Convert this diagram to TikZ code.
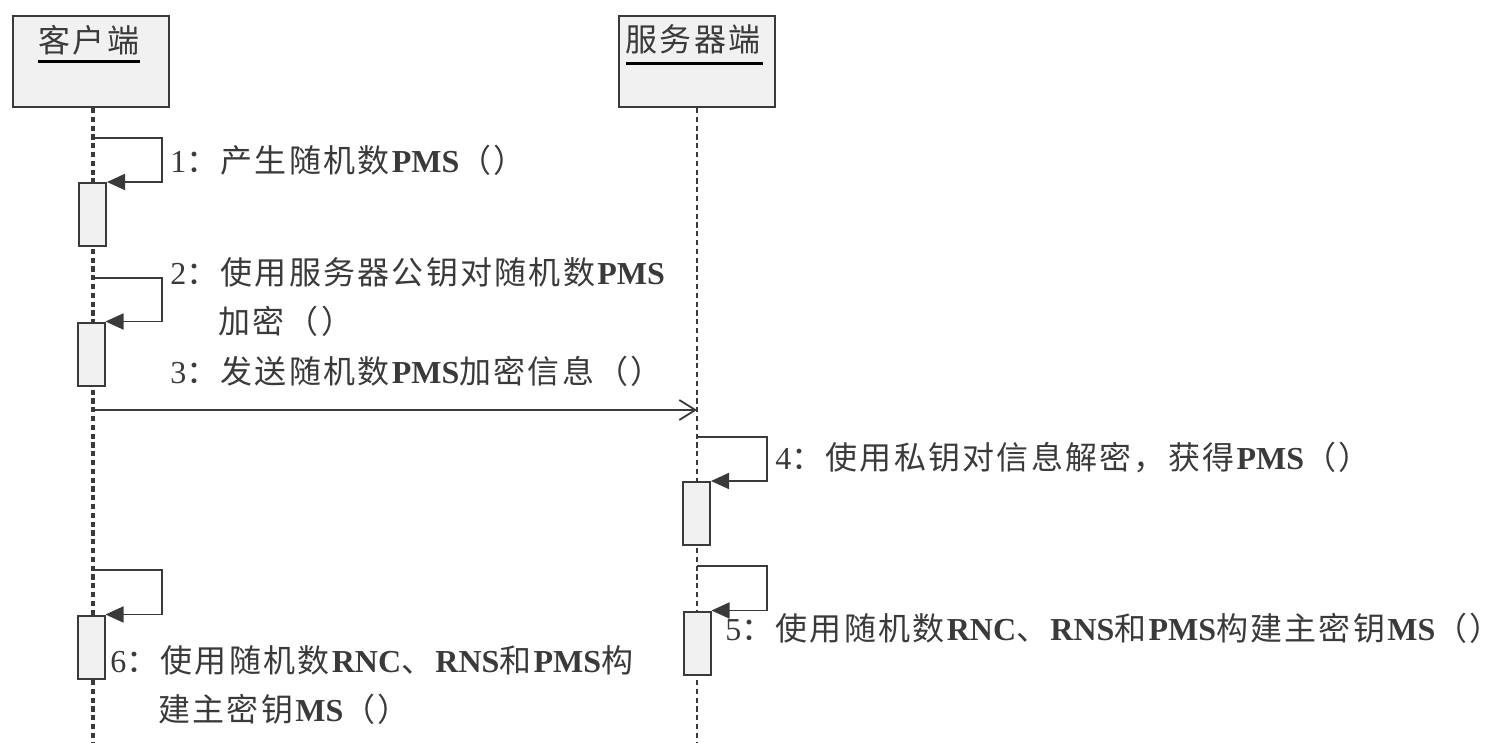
\documentclass[tikz,border=0pt]{standalone}
\usepackage{fontspec}
\setmainfont{Liberation Serif}
\newfontfamily\cjk[LetterSpace=7]{Noto Sans CJK SC}
\usepackage{tikz}
\usetikzlibrary{arrows.meta}
\definecolor{Ink}{HTML}{3A3A3A}
\definecolor{Pale}{HTML}{F1F1F1}
\newcommand{\zh}[1]{{\cjk #1}}

\tikzset{
  objbox/.style={draw=Ink,line width=1pt,fill=Pale,minimum width=78pt,minimum height=45.5pt},
  actbar/.style={draw=Ink,line width=1pt,fill=Pale,minimum width=13.5pt,minimum height=31.5pt,inner sep=0pt},
  lifeline/.style={Ink,dash pattern=on 2.6pt off 1.8pt},
  selfmsg/.style={Ink,line width=0.9pt,-{Triangle[length=9pt,width=8pt]}},
  callmsg/.style={Ink,line width=0.9pt,-{Straight Barb[length=8pt,width=10pt]}},
  msglabel/.style={anchor=west,text=Ink,align=left,inner sep=2pt,font=\fontsize{16}{24.5}\selectfont},
}

\begin{document}
\begin{tikzpicture}[x=0.5pt,y=-0.5pt]
  \useasboundingbox (0,0) rectangle (1499,743);
  % objects
  \node[objbox] (client) at (91,61.5) {};
  \node[objbox] (server) at (696.5,61.5) {};
  \node[text=Ink,font=\fontsize{16}{20}\selectfont] (clientname) at (89,40) {\zh{客户端}};
  \node[text=Ink,font=\fontsize{16}{20}\selectfont] (servername) at (693,39) {\zh{服务器端}};
  \draw[line width=1.5pt] (38,62) -- (140,62);
  \draw[line width=1.5pt] (626,64) -- (763,64);
  % lifelines
  \coordinate (clientend) at (93,743);
  \coordinate (serverend) at (697,743);
  \draw[lifeline,line width=1.6pt] (client.south -| clientend) -- (clientend);
  \draw[lifeline,line width=1pt] (server.south -| serverend) -- (serverend);
  % activations
  \node[actbar] (a1) at (92.5,214.5) {};
  \node[actbar] (a2) at (91,354) {};
  \node[actbar] (a4) at (696.5,513.5) {};
  \node[actbar] (a5) at (697,643) {};
  \node[actbar] (a6) at (91,647) {};
  % messages
  \coordinate (s1) at (93,138);
  \coordinate (s2) at (93,278);
  \coordinate (s4) at (697,437);
  \coordinate (s5) at (697,566);
  \coordinate (s6) at (93,570);
  \coordinate (m3a) at (93,410);
  \coordinate (m3b) at (697,410);
  \draw[selfmsg] (s1) -- ++(69,0) |- (a1.north east);
  \draw[selfmsg] (s2) -- ++(69,0) |- (a2.north east);
  \draw[callmsg] (m3a) -- (m3b);
  \draw[selfmsg] (s4) -- ++(70,0) |- (a4.north east);
  \draw[selfmsg] (s5) -- ++(70,0) |- (a5.north east);
  \draw[selfmsg] (s6) -- ++(69,0) |- (a6.north east);
  % labels
  \node[msglabel] (l1) at (166,160) {1\zh{：产生随机数}\textbf{PMS}\zh{（）}};
  \node[msglabel] (l2) at (166,297) {2\zh{：使用服务器公钥对随机数}\textbf{PMS}\\\phantom{2\zh{：}}\zh{加密（）}};
  \node[msglabel] (l3) at (166,371) {3\zh{：发送随机数}\textbf{PMS}\zh{加密信息（）}};
  \node[msglabel] (l4) at (771,458) {4\zh{：使用私钥对信息解密，获得}\textbf{PMS}\zh{（）}};
  \node[msglabel] (l5) at (721,628) {5\zh{：使用随机数}\textbf{RNC}\zh{、}\textbf{RNS}\zh{和}\textbf{PMS}\zh{构建主密钥}\textbf{MS}\zh{（）}};
  \node[msglabel] (l6) at (106,685) {6\zh{：使用随机数}\textbf{RNC}\zh{、}\textbf{RNS}\zh{和}\textbf{PMS}\zh{构}\\\phantom{6\zh{：}}\zh{建主密钥}\textbf{MS}\zh{（）}};
\end{tikzpicture}
\end{document}
